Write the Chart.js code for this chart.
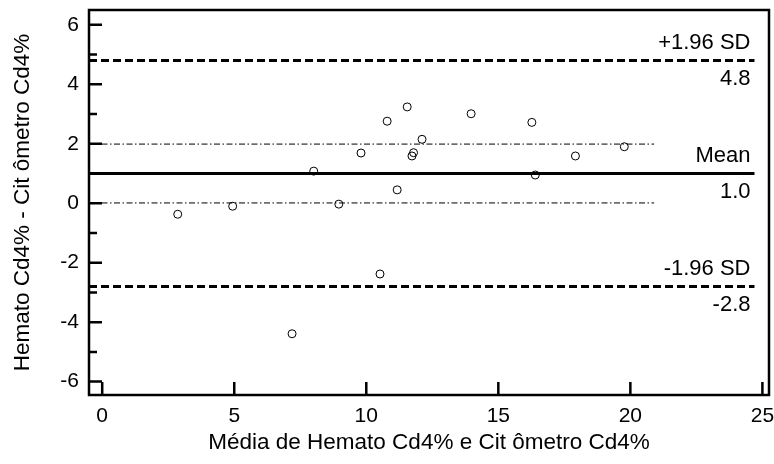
<!DOCTYPE html>
<html><head><meta charset="utf-8">
<script src="https://cdn.jsdelivr.net/npm/chart.js@4/dist/chart.umd.min.js"></script>
<style>html,body{margin:0;padding:0;background:#fff}#wrap{width:774px;height:464px}</style>
</head><body><div id="wrap"><canvas id="c" width="774" height="464"></canvas></div>
<script>
// Data
const meanValues = [2.86, 4.94, 7.19, 8.01, 8.96, 9.80, 10.52, 10.79, 11.17, 11.55, 11.73, 11.79, 12.11, 13.97, 16.27, 16.40, 17.92, 19.77];
const diffValues = [-0.37, -0.10, -4.39, 1.08, -0.03, 1.69, -2.38, 2.76, 0.45, 3.24, 1.59, 1.70, 2.15, 3.01, 2.72, 0.95, 1.59, 1.90];
const meanDiff = 1.0;
const upperLoA = 4.8;
const lowerLoA = -2.8;
const ciUpper = 1.99;
const ciLower = 0.01;
const lineStartX = -0.5;
const lineEndX = 24.7;
const ciEndX = 20.9;
const xTicks = [0, 5, 10, 15, 20, 25];
const yTicks = [-6, -4, -2, 0, 2, 4, 6];
const yMinorTicks = [-5, -3, -1, 1, 3, 5];
const xRange = [-0.5, 25.25];
const yRange = [-6.45, 6.5];
const lineLabelsAbove = ['+1.96 SD', 'Mean', '-1.96 SD'];
const lineLabelsBelow = ['4.8', '1.0', '-2.8'];
const lineLabelValues = [upperLoA, meanDiff, lowerLoA];
const xTitle = 'Média de Hemato Cd4% e Cit ômetro Cd4%';
const yTitle = 'Hemato Cd4% - Cit ômetro Cd4%';

const FONT = '"Liberation Sans", Arial, sans-serif';

const points = meanValues.map((x, i) => ({x: x, y: diffValues[i]}));
const hLine = (y, x0, x1) => [{x: x0, y: y}, {x: x1, y: y}];

const framePlugin = {
  id: 'frame',
  afterDraw(chart) {
    const ctx = chart.ctx;
    const a = chart.chartArea;
    const xs = chart.scales.x, ys = chart.scales.y;
    ctx.save();
    ctx.strokeStyle = '#000';
    ctx.lineWidth = 2.5;
    ctx.strokeRect(a.left, a.top, a.right - a.left, a.bottom - a.top);
    ctx.beginPath();
    yTicks.forEach(v => {
      const p = ys.getPixelForValue(v);
      ctx.moveTo(a.left, p); ctx.lineTo(a.left + 13, p);
    });
    yMinorTicks.forEach(v => {
      const p = ys.getPixelForValue(v);
      ctx.moveTo(a.left, p); ctx.lineTo(a.left + 8, p);
    });
    xTicks.forEach(v => {
      const p = xs.getPixelForValue(v);
      ctx.moveTo(p, a.bottom); ctx.lineTo(p, a.bottom - 13);
    });
    ctx.stroke();
    // line labels
    ctx.fillStyle = '#000';
    ctx.font = '22px ' + FONT;
    ctx.textAlign = 'right';
    ctx.textBaseline = 'middle';
    const tx = xs.getPixelForValue(lineEndX) - 4;
    lineLabelValues.forEach((v, i) => {
      const p = ys.getPixelForValue(v);
      ctx.fillText(lineLabelsAbove[i], tx, p - 18);
      ctx.fillText(lineLabelsBelow[i], tx, p + 18);
    });
    ctx.restore();
  }
};

const zeroPad = s => { s.paddingTop = 0; s.paddingBottom = 0; s.paddingLeft = 0; s.paddingRight = 0; };

new Chart(document.getElementById('c'), {
  type: 'scatter',
  data: {
    datasets: [
      {type: 'line', data: hLine(meanDiff, lineStartX, lineEndX), borderColor: '#000', borderWidth: 3, pointRadius: 0, fill: false},
      {type: 'line', data: hLine(upperLoA, lineStartX, lineEndX), borderColor: '#000', borderWidth: 3, borderDash: [8, 4], pointRadius: 0, fill: false},
      {type: 'line', data: hLine(lowerLoA, lineStartX, lineEndX), borderColor: '#000', borderWidth: 3, borderDash: [8, 4], pointRadius: 0, fill: false},
      {type: 'line', data: hLine(ciUpper, lineStartX, ciEndX), borderColor: '#000', borderWidth: 1, borderDash: [6, 2.5, 1.5, 2.5], pointRadius: 0, fill: false},
      {type: 'line', data: hLine(ciLower, lineStartX, ciEndX), borderColor: '#000', borderWidth: 1, borderDash: [6, 2.5, 1.5, 2.5], pointRadius: 0, fill: false},
      {type: 'scatter', data: points, pointRadius: 4, borderColor: '#000', borderWidth: 1, backgroundColor: 'rgba(0,0,0,0)', pointStyle: 'circle'}
    ]
  },
  options: {
    responsive: false,
    devicePixelRatio: 1,
    animation: false,
    layout: {padding: {top: 10, right: 5, left: 0, bottom: 0}},
    plugins: {legend: {display: false}, tooltip: {enabled: false}},
    scales: {
      x: {
        type: 'linear', min: xRange[0], max: xRange[1],
        afterBuildTicks: s => { s.ticks = xTicks.map(v => ({value: v})); },
        afterFit: s => { s.height = 69; zeroPad(s); },
        grid: {display: false, drawTicks: false},
        border: {display: false},
        ticks: {color: '#000', font: {family: FONT, size: 21}, padding: 9, maxRotation: 0, autoSkip: false},
        title: {display: true, text: xTitle, color: '#000', font: {family: FONT, size: 22.5, lineHeight: 1.2}, padding: {top: 0, bottom: 8}}
      },
      y: {
        type: 'linear', min: yRange[0], max: yRange[1],
        afterBuildTicks: s => { s.ticks = yTicks.map(v => ({value: v})); },
        afterFit: s => { s.width = 89; zeroPad(s); },
        grid: {display: false, drawTicks: false},
        border: {display: false},
        ticks: {color: '#000', font: {family: FONT, size: 21}, padding: 10, autoSkip: false},
        title: {display: true, text: yTitle, color: '#000', font: {family: FONT, size: 22.5, lineHeight: 1.2}, padding: {top: 9, bottom: 0}}
      }
    }
  },
  plugins: [framePlugin]
});
</script>
</body></html>
